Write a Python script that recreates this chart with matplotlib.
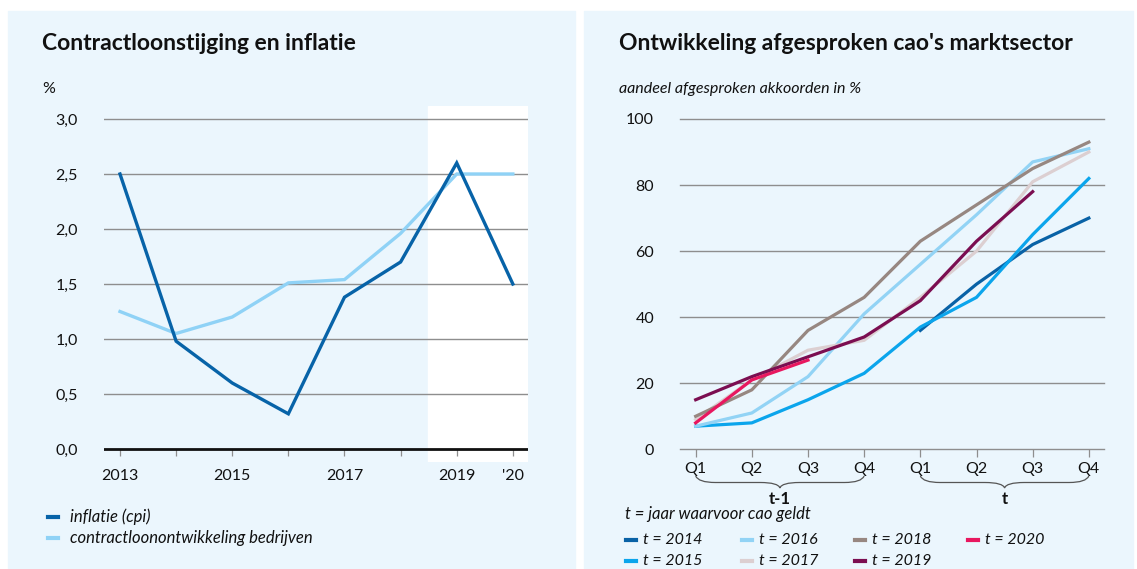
import numpy as np
import matplotlib
matplotlib.use("Agg")
import matplotlib.pyplot as plt
from matplotlib.patches import Rectangle, PathPatch
from matplotlib.path import Path
from matplotlib.lines import Line2D
import matplotlib.transforms as mtransforms

plt.rcParams["font.family"] = ["Lato", "DejaVu Sans"]

# --- left panel: contract wages vs inflation ---
years = [2013, 2014, 2015, 2016, 2017, 2018, 2019, 2020]
year_labels = ["2013", "", "2015", "", "2017", "", "2019", "'20"]
inflatie = [2.50, 0.98, 0.60, 0.32, 1.38, 1.70, 2.60, 1.50]
contractloon = [1.25, 1.05, 1.20, 1.51, 1.54, 1.96, 2.50, 2.50]
left_yticks = [0.0, 0.5, 1.0, 1.5, 2.0, 2.5, 3.0]
left_ylabels = ["0,0", "0,5", "1,0", "1,5", "2,0", "2,5", "3,0"]
forecast_from = 2018.49

# --- right panel: share of agreed collective agreements ---
quarters = ["Q1", "Q2", "Q3", "Q4", "Q1", "Q2", "Q3", "Q4"]
nan = np.nan
cao = {
    "t = 2014": [nan, nan, nan, nan, 36, 50, 62, 70],
    "t = 2015": [7, 8, 15, 23, 37, 46, 65, 82],
    "t = 2016": [7, 11, 22, 41, 56, 71, 87, 91],
    "t = 2017": [9, 21, 30, 33, 46, 60, 81, 90],
    "t = 2018": [10, 18, 36, 46, 63, 74, 85, 93],
    "t = 2019": [15, 22, 28, 34, 45, 63, 78, nan],
    "t = 2020": [8, 21, 27, nan, nan, nan, nan, nan],
}
cao_colors = {
    "t = 2014": "#0962a6",
    "t = 2015": "#0ba5ec",
    "t = 2016": "#92d3f5",
    "t = 2017": "#dccfd1",
    "t = 2018": "#978781",
    "t = 2019": "#7b0e51",
    "t = 2020": "#e8175f",
}
right_yticks = [0, 20, 40, 60, 80, 100]

panel_bg = "#ebf6fd"
grid_col = "#8e8e8e"
text_col = "#111111"
W, H = 1137, 569

fig = plt.figure(figsize=(W / 100, H / 100), dpi=100)
fig.patch.set_facecolor("white")


def fx(px):
    return px / W


def fy(py):
    return 1 - py / H


# panel backgrounds, kept behind both axes
for x0, w in [(8, 567), (584, 549)]:
    fig.add_artist(Rectangle((fx(x0), fy(568)), fx(w), (568 - 11) / H,
                             transform=fig.transFigure, color=panel_bg,
                             zorder=-5))

# ---------------- left chart ----------------
ax1 = fig.add_axes([fx(104), fy(462), fx(424), 356 / H])
ax1.set_facecolor("none")
ax1.set_xlim(2012.715, 2020.27)
ax1.set_ylim(-0.118, 3.118)
for s in ax1.spines.values():
    s.set_visible(False)
ax1.axvspan(forecast_from, 2020.27, color="white", zorder=0)
for v in left_yticks[1:]:
    ax1.axhline(v, color=grid_col, lw=1.0, zorder=1)
ax1.axhline(0, color="#111111", lw=2.0, zorder=3)
ax1.plot(years, contractloon, color="#8fd2f6", lw=2.4, zorder=4,
         solid_joinstyle="miter")
ax1.plot(years, inflatie, color="#0763a8", lw=2.4, zorder=5,
         solid_joinstyle="miter")
ax1.set_yticks(left_yticks)
ax1.set_yticklabels(left_ylabels)
ax1.tick_params(axis="y", length=0, pad=19, labelsize=11.5, labelcolor=text_col)
ax1.set_xticks(years)
ax1.set_xticklabels(year_labels)
ax1.tick_params(axis="x", length=5, width=0.9, color=grid_col, pad=4,
                labelsize=11.5, labelcolor=text_col)
ax1.xaxis.set_ticks_position("bottom")
# move tick marks so they hang from the zero line
for t in ax1.xaxis.get_major_ticks():
    t.tick1line.set_transform(t.tick1line.get_transform() +
                              mtransforms.ScaledTranslation(0, 13 / 100, fig.dpi_scale_trans))
    t.label1.set_transform(t.label1.get_transform() +
                           mtransforms.ScaledTranslation(0, 5 / 100, fig.dpi_scale_trans))

fig.text(fx(42), fy(44), "Contractloonstijging en inflatie", fontsize=16.5,
         fontweight="bold", color=text_col, va="center", ha="left")
fig.text(fx(42), fy(89), "%", fontsize=11.5, color=text_col, va="center")

left_legend = [("inflatie (cpi)", "#0763a8"),
               ("contractloonontwikkeling bedrijven", "#8fd2f6")]
for i, (lab, col) in enumerate(left_legend):
    yy = fy(517 + 21 * i)
    fig.add_artist(Line2D([fx(48), fx(58)], [yy, yy], color=col, lw=3,
                          transform=fig.transFigure))
    fig.text(fx(70), yy, lab, fontsize=12, style="italic", color=text_col,
             va="center", ha="left")

# ---------------- right chart ----------------
ax2 = fig.add_axes([fx(680.5), fy(449.3), fx(423.5), 330.3 / H])
ax2.set_facecolor("none")
ax2.set_xlim(-0.27, 7.27)
ax2.set_ylim(0, 100)
for s in ax2.spines.values():
    s.set_visible(False)
for v in right_yticks:
    ax2.axhline(v, color=grid_col, lw=1.0, zorder=1, clip_on=False)
xq = np.arange(len(quarters))
for name, vals in cao.items():
    ax2.plot(xq, vals, color=cao_colors[name], lw=2.3, zorder=3, clip_on=False)
ax2.set_yticks(right_yticks)
ax2.set_yticklabels([str(v) for v in right_yticks])
ax2.tick_params(axis="y", length=0, pad=19, labelsize=11.5, labelcolor=text_col)
ax2.set_xticks(xq)
ax2.set_xticklabels(quarters)
ax2.tick_params(axis="x", length=6, width=0.9, color=grid_col, pad=3,
                labelsize=11.5, labelcolor=text_col)

fig.text(fx(619), fy(44), "Ontwikkeling afgesproken cao's marktsector",
         fontsize=16.5, fontweight="bold", color=text_col, va="center", ha="left")
fig.text(fx(619), fy(89), "aandeel afgesproken akkoorden in %", fontsize=11.5,
         style="italic", color=text_col, va="center", ha="left")

# curly braces grouping the quarters of year t-1 and year t
brace_tr = mtransforms.blended_transform_factory(ax2.transData, fig.transFigure)


def brace(x0, x1, label):
    xc = (x0 + x1) / 2
    y_top, y_mid, y_tip = fy(476), fy(482.5), fy(488)
    d = 0.35
    verts = [(x0, y_top), (x0 + 0.05, y_mid), (x0 + d, y_mid),
             (xc - d, y_mid), (xc - 0.03, y_mid), (xc, y_tip),
             (xc + 0.03, y_mid), (xc + d, y_mid),
             (x1 - d, y_mid), (x1 - 0.05, y_mid), (x1, y_top)]
    codes = [Path.MOVETO, Path.CURVE3, Path.CURVE3,
             Path.LINETO, Path.CURVE3, Path.CURVE3,
             Path.CURVE3, Path.CURVE3,
             Path.LINETO, Path.CURVE3, Path.CURVE3]
    fig.add_artist(PathPatch(Path(verts, codes), fill=False, edgecolor="#555555",
                             lw=0.9, transform=brace_tr, clip_on=False))
    fig.text(xc, fy(499), label, transform=brace_tr, fontsize=12,
             fontweight="bold", color=text_col, ha="center", va="center")


brace(0, 3, "t-1")
brace(4, 7, "t")

fig.text(fx(625), fy(514), "t = jaar waarvoor cao geldt", fontsize=12,
         style="italic", color=text_col, va="center", ha="left")
col_x = [626, 742, 855, 968]
for i, name in enumerate(cao):
    c, r = divmod(i, 2)
    yy = fy(540 + 21 * r)
    x0 = col_x[c]
    fig.add_artist(Line2D([fx(x0), fx(x0 + 10)], [yy, yy], color=cao_colors[name],
                          lw=3, transform=fig.transFigure))
    fig.text(fx(x0 + 17), yy, name, fontsize=11.5, style="italic", color=text_col,
             va="center", ha="left")

fig.savefig("out.png", dpi=100, facecolor="white")
